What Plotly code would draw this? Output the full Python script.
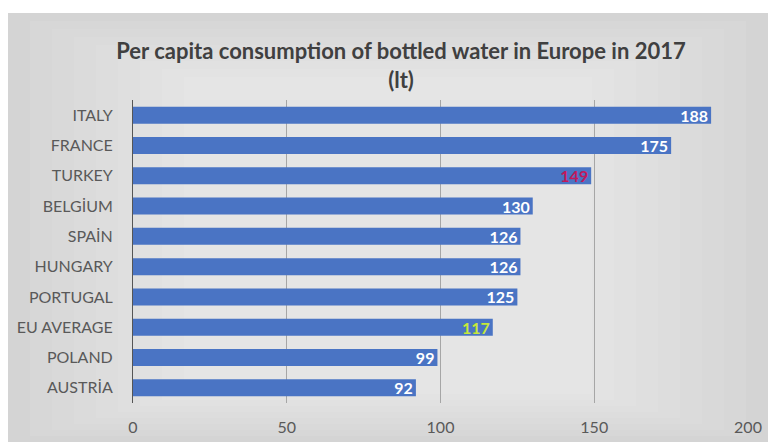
import plotly.graph_objects as go

countries = ["ITALY", "FRANCE", "TURKEY", "BELGİUM", "SPAİN", "HUNGARY",
             "PORTUGAL", "EU AVERAGE", "POLAND", "AUSTRİA"]
values = [188, 175, 149, 130, 126, 126, 125, 117, 99, 92]
label_colors = ["white", "white", "#c2185b", "white", "white", "white",
                "white", "#c6e83a", "white", "white"]
x_ticks = [0, 50, 100, 150, 200]

W, H = 768, 442
ml, mr, mt, mb = 133, 20, 100, 39
pw, ph = W - ml - mr, H - mt - mb

def px2paper(x, y):
    return (x - ml) / pw, (H - mb - y) / ph

shapes = []
# grey card background with a lighter centre
x0, y0 = px2paper(8, 13)
x1, y1 = px2paper(W, H)
shapes.append(dict(type="rect", xref="paper", yref="paper", x0=x0, y0=y0, x1=x1, y1=y1,
                   fillcolor="#d4d4d4", line=dict(width=0), layer="below"))
for i in range(1, 9):
    ix = 8 + i * 22
    iy = 13 + i * 8
    a0, b0 = px2paper(ix, iy)
    a1, b1 = px2paper(W - i * 22, H - i * 6)
    shapes.append(dict(type="rect", xref="paper", yref="paper", x0=a0, y0=b0, x1=a1, y1=b1,
                       fillcolor="white", opacity=0.07, line=dict(width=0), layer="below"))

fig = go.Figure(go.Bar(
    y=countries, x=values, orientation="h",
    marker=dict(color="#4a74c4", line=dict(width=0)),
    width=0.56,
    text=[str(v) for v in values],
    textposition="inside", insidetextanchor="end", textangle=0,
    constraintext="none",
    textfont=dict(color=label_colors, size=16, family="Lato", weight="bold"),
    cliponaxis=False,
))

fig.update_layout(
    width=W, height=H,
    margin=dict(l=ml, r=mr, t=mt, b=mb, autoexpand=False),
    paper_bgcolor="white",
    plot_bgcolor="rgba(0,0,0,0)",
    shapes=shapes,
    showlegend=False,
    uniformtext=dict(minsize=16, mode="show"),
    title=dict(text="Per capita consumption of bottled water in Europe in 2017<br>(lt)",
               x=401 / W, xref="container", xanchor="center", y=1 - 59 / H, yanchor="middle",
               font=dict(family="Lato", size=22, color="#404040", weight="bold")),
    xaxis=dict(range=[0, 200], tickvals=x_ticks, showgrid=True, gridcolor="#a6a6a6",
               gridwidth=1, zeroline=False, showline=False, ticks="", automargin=False,
               ticklabelstandoff=13,
               tickfont=dict(family="Lato", size=16, color="#595959")),
    yaxis=dict(autorange="reversed", showline=True, linecolor="#555555", linewidth=1,
               ticks="", ticklabelstandoff=16, showgrid=False, automargin=False,
               tickfont=dict(family="Lato", size=16, color="#595959")),
)

fig.write_html("out.html")
